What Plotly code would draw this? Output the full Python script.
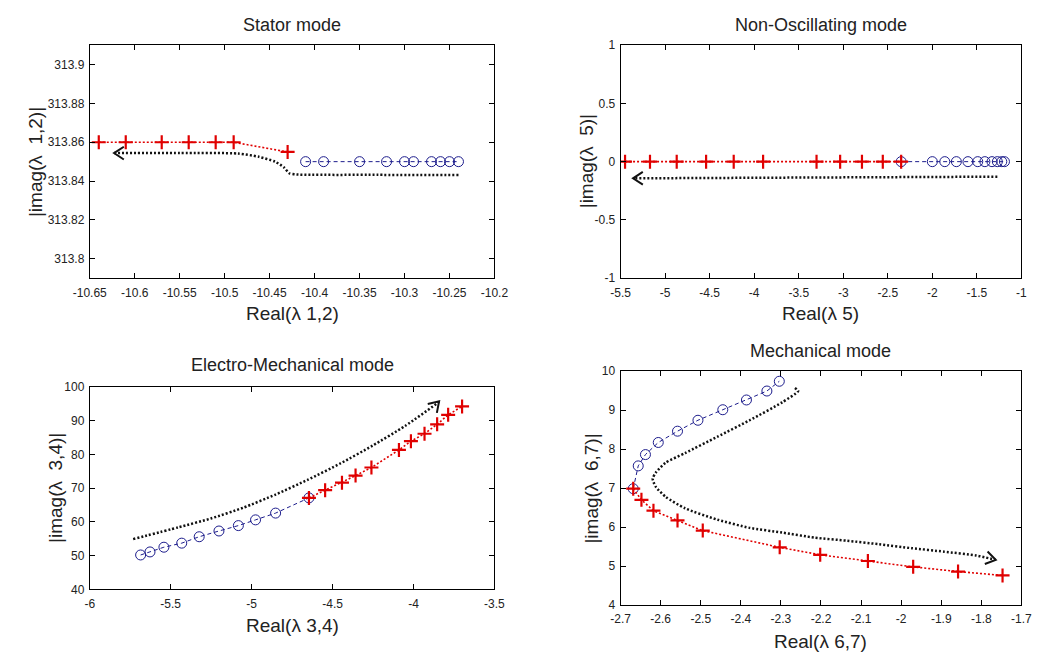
import math
import plotly.graph_objects as go

# ------------------------------------------------------------------ data
# Stator mode  (lambda 1,2)
stator_cross_x = [-10.64, -10.61, -10.57, -10.54, -10.51, -10.49, -10.43]
stator_cross_y = [313.86, 313.86, 313.86, 313.86, 313.86, 313.86, 313.855]
stator_circ_x = [-10.41, -10.39, -10.35, -10.32, -10.30, -10.29, -10.27, -10.26, -10.25, -10.24]
stator_circ_y = [313.85, 313.85, 313.85, 313.85, 313.85, 313.85, 313.85, 313.85, 313.85, 313.85]
stator_path_x = [-10.24, -10.33, -10.420, -10.428, -10.434, -10.444, -10.462, -10.485, -10.55, -10.623]
stator_path_y = [313.8431, 313.8432, 313.8434, 313.8440, 313.8470, 313.8500, 313.8525, 313.8542, 313.8544, 313.8544]

# Non-oscillating mode  (lambda 5)
nonosc_cross_x = [-5.45, -5.17, -4.87, -4.54, -4.23, -3.90, -3.30, -3.035, -2.79, -2.556, -2.35]
nonosc_cross_y = [0, 0, 0, 0, 0, 0, 0, 0, 0, 0, 0]
nonosc_circ_x = [-2.35, -2.0, -1.86, -1.73, -1.60, -1.49, -1.41, -1.33, -1.27, -1.22, -1.19]
nonosc_circ_y = [0, 0, 0, 0, 0, 0, 0, 0, 0, 0, 0]
nonosc_path_x = [-1.27, -5.36]
nonosc_path_y = [-0.129, -0.143]

# Electro-Mechanical mode  (lambda 3,4)
em_circ_x = [-5.686, -5.628, -5.542, -5.432, -5.324, -5.202, -5.082, -4.976, -4.852, -4.646]
em_circ_y = [50.2, 51.1, 52.5, 53.7, 55.6, 57.3, 58.9, 60.6, 62.6, 67.1]
em_cross_x = [-4.646, -4.546, -4.442, -4.358, -4.26, -4.09, -4.016, -3.932, -3.854, -3.786, -3.70]
em_cross_y = [67.1, 69.4, 71.6, 73.7, 76.1, 81.3, 83.9, 86.1, 88.9, 91.7, 94.2]
em_path_x = [-5.732, -5.452, -5.252, -5.052, -4.852, -4.652, -4.452, -4.252, -4.052, -3.852, -3.842]
em_path_y = [54.9, 58.4, 61.0, 64.2, 68.1, 72.5, 77.3, 82.6, 88.4, 95.2, 95.7]

# Mechanical mode  (lambda 6,7)
mech_circ_x = [-2.6685, -2.656, -2.638, -2.606, -2.558, -2.507, -2.445, -2.386, -2.335, -2.304]
mech_circ_y = [6.985, 7.57, 7.86, 8.17, 8.46, 8.74, 9.01, 9.26, 9.49, 9.74]
mech_cross_x = [-2.6685, -2.648, -2.618, -2.558, -2.495, -2.303, -2.202, -2.083, -1.970, -1.858, -1.747]
mech_cross_y = [6.985, 6.70, 6.42, 6.17, 5.91, 5.48, 5.29, 5.13, 4.98, 4.86, 4.76]
mech_path_x = [-2.265, -2.257, -2.297, -2.378, -2.458, -2.539, -2.588, -2.612, -2.620, -2.612, -2.588,
               -2.539, -2.458, -2.378, -2.297, -2.216, -2.135, -2.055, -1.974, -1.893, -1.812, -1.764]
mech_path_y = [9.57, 9.49, 9.20, 8.74, 8.32, 7.90, 7.65, 7.40, 7.24, 7.03, 6.78,
               6.48, 6.19, 5.98, 5.86, 5.73, 5.65, 5.56, 5.46, 5.37, 5.27, 5.16]

# tick values / labels
stator_xticks = [-10.65, -10.6, -10.55, -10.5, -10.45, -10.4, -10.35, -10.3, -10.25, -10.2]
stator_xlabels = ["-10.65", "-10.6", "-10.55", "-10.5", "-10.45", "-10.4", "-10.35", "-10.3", "-10.25", "-10.2"]
stator_yticks = [313.8, 313.82, 313.84, 313.86, 313.88, 313.9]
stator_ylabels = ["313.8", "313.82", "313.84", "313.86", "313.88", "313.9"]
nonosc_xticks = [-5.5, -5, -4.5, -4, -3.5, -3, -2.5, -2, -1.5, -1]
nonosc_xlabels = ["-5.5", "-5", "-4.5", "-4", "-3.5", "-3", "-2.5", "-2", "-1.5", "-1"]
nonosc_yticks = [-1, -0.5, 0, 0.5, 1]
nonosc_ylabels = ["-1", "-0.5", "0", "0.5", "1"]
em_xticks = [-6, -5.5, -5, -4.5, -4, -3.5]
em_xlabels = ["-6", "-5.5", "-5", "-4.5", "-4", "-3.5"]
em_yticks = [40, 50, 60, 70, 80, 90, 100]
em_ylabels = ["40", "50", "60", "70", "80", "90", "100"]
mech_xticks = [-2.7, -2.6, -2.5, -2.4, -2.3, -2.2, -2.1, -2.0, -1.9, -1.8, -1.7]
mech_xlabels = ["-2.7", "-2.6", "-2.5", "-2.4", "-2.3", "-2.2", "-2.1", "-2", "-1.9", "-1.8", "-1.7"]
mech_yticks = [4, 5, 6, 7, 8, 9, 10]
mech_ylabels = ["4", "5", "6", "7", "8", "9", "10"]

titles = ["Stator mode", "Non-Oscillating mode", "Electro-Mechanical mode", "Mechanical mode"]
xlabels = ["Real(λ 1,2)", "Real(λ 5)", "Real(λ 3,4)", "Real(λ 6,7)"]
ylabels = ["|imag(λ  1,2)|", "|imag(λ  5)|", "|imag(λ  3,4)|", "|imag(λ  6,7)|"]

# ------------------------------------------------------------------ layout geometry
W, H = 1048, 662
FONT = "Liberation Sans Narrow, Arial Narrow, Liberation Sans, Arial, sans-serif"
# plot-area boxes in pixels: (left, right, top, bottom)
boxes = [(75, 492, 39, 277), (622, 1035, 39, 277), (75, 492, 388, 595), (622, 1035, 372, 611)]
xranges = [[-10.65, -10.2], [-5.5, -1], [-6, -3.5], [-2.7, -1.7]]
yranges = [[313.79, 313.91], [-1, 1], [40, 100], [4, 10]]
xtick_sets = [(stator_xticks, stator_xlabels), (nonosc_xticks, nonosc_xlabels),
              (em_xticks, em_xlabels), (mech_xticks, mech_xlabels)]
ytick_sets = [(stator_yticks, stator_ylabels), (nonosc_yticks, nonosc_ylabels),
              (em_yticks, em_ylabels), (mech_yticks, mech_ylabels)]
title_y = [18, 18, 366, 351]
xlabel_y = [313, 313, 632, 648]
ylabel_x = [19, 587, 39, 592]

RED = "#e00000"
BLUE = "#1c1c8c"
BLACK = "#111111"
TXT = "#222222"

fig = go.Figure()

series = [
    (stator_circ_x, stator_circ_y, stator_cross_x, stator_cross_y, stator_path_x, stator_path_y),
    (nonosc_circ_x, nonosc_circ_y, nonosc_cross_x, nonosc_cross_y, nonosc_path_x, nonosc_path_y),
    (em_circ_x, em_circ_y, em_cross_x, em_cross_y, em_path_x, em_path_y),
    (mech_circ_x, mech_circ_y, mech_cross_x, mech_cross_y, mech_path_x, mech_path_y),
]


def chevron(px, py, i, length=12, half_angle=33):
    """open arrowhead at the end of a path, oriented in screen space"""
    l, r, t, b = boxes[i]
    sx = (r - l) / (xranges[i][1] - xranges[i][0])
    sy = (b - t) / (yranges[i][1] - yranges[i][0])
    dx = (px[-1] - px[-2]) * sx
    dy = (py[-1] - py[-2]) * sy
    n = math.hypot(dx, dy)
    dx, dy = dx / n, dy / n
    xs, ys = [], []
    for sgn in (1, None, -1):
        if sgn is None:
            xs.append(px[-1]); ys.append(py[-1])
            continue
        a = math.radians(half_angle) * sgn
        rx = dx * math.cos(a) - dy * math.sin(a)
        ry = dx * math.sin(a) + dy * math.cos(a)
        xs.append(px[-1] - length * rx / sx)
        ys.append(py[-1] - length * ry / sy)
    return xs, ys


for i, (cx, cy, rx, ry, pxs, pys) in enumerate(series):
    xa = "x" if i == 0 else f"x{i+1}"
    ya = "y" if i == 0 else f"y{i+1}"
    # black dotted trend path
    fig.add_trace(go.Scatter(x=pxs, y=pys, xaxis=xa, yaxis=ya, mode="lines",
                             line=dict(color=BLACK, width=2.5, dash="2px,2px", shape="spline", smoothing=0.6),
                             hoverinfo="skip", showlegend=False))
    ax_, ay_ = chevron(pxs, pys, i)
    fig.add_trace(go.Scatter(x=ax_, y=ay_, xaxis=xa, yaxis=ya, mode="lines",
                             line=dict(color=BLACK, width=2), hoverinfo="skip", showlegend=False))
    # blue circles, dashed
    fig.add_trace(go.Scatter(x=cx, y=cy, xaxis=xa, yaxis=ya, mode="lines+markers",
                             line=dict(color=BLUE, width=1, dash="4px,3px"),
                             marker=dict(symbol="circle-open", size=10, color=BLUE, line=dict(width=1)),
                             showlegend=False))
    # red crosses, dotted
    fig.add_trace(go.Scatter(x=rx, y=ry, xaxis=xa, yaxis=ya, mode="lines+markers",
                             line=dict(color=RED, width=1.6, dash="2px,2px"),
                             marker=dict(symbol="cross-thin-open", size=10, color=RED, line=dict(width=2.2, color=RED)),
                             showlegend=False))

layout = dict(width=W, height=H, margin=dict(l=0, r=0, t=0, b=0),
              paper_bgcolor="white", plot_bgcolor="white",
              font=dict(family=FONT, color=TXT))
annotations = []
for i in range(4):
    l, r, t, b = boxes[i]
    xk = "xaxis" if i == 0 else f"xaxis{i+1}"
    yk = "yaxis" if i == 0 else f"yaxis{i+1}"
    yid = "y" if i == 0 else f"y{i+1}"
    xid = "x" if i == 0 else f"x{i+1}"
    common = dict(showline=True, linecolor="black", linewidth=1, mirror="ticks",
                  ticks="inside", ticklen=5, tickcolor="black", tickwidth=1,
                  showgrid=False, zeroline=False, tickfont=dict(size=12, color=TXT, family=FONT))
    layout[xk] = dict(domain=[l / W, r / W], range=xranges[i], anchor=yid, ticklabelstandoff=3,
                      tickvals=xtick_sets[i][0], ticktext=xtick_sets[i][1], **common)
    layout[yk] = dict(domain=[1 - b / H, 1 - t / H], range=yranges[i], anchor=xid, ticklabelstandoff=2,
                      tickvals=ytick_sets[i][0], ticktext=ytick_sets[i][1], **common)
    cxp = (l + r) / 2 / W
    annotations.append(dict(text=titles[i], x=cxp, y=1 - title_y[i] / H, xref="paper", yref="paper",
                            xanchor="center", yanchor="middle", showarrow=False,
                            font=dict(size=18, color=TXT, family=FONT)))
    annotations.append(dict(text=xlabels[i], x=cxp, y=1 - xlabel_y[i] / H, xref="paper", yref="paper",
                            xanchor="center", yanchor="middle", showarrow=False,
                            font=dict(size=19, color=TXT, family=FONT)))
    annotations.append(dict(text=ylabels[i], x=ylabel_x[i] / W, y=1 - (t + b) / 2 / H, xref="paper", yref="paper",
                            xanchor="center", yanchor="middle", showarrow=False, textangle=-90,
                            font=dict(size=19, color=TXT, family=FONT)))
layout["annotations"] = annotations
fig.update_layout(**layout)

fig.write_html("out.html")
